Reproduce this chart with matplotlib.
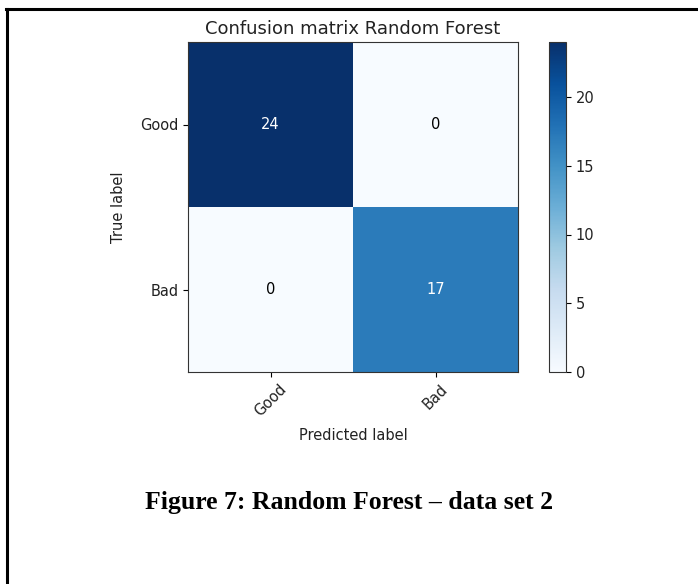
import matplotlib
matplotlib.use("Agg")
import matplotlib.pyplot as plt
from matplotlib.lines import Line2D
import numpy as np

classes = ["Good", "Bad"]
cm_values = [[24, 0],
             [0, 17]]
title = "Confusion matrix Random Forest"
caption = "Figure 7: Random Forest \u2013 data set 2"

cm = np.array(cm_values)
fig = plt.figure(figsize=(6.98, 5.84), dpi=100)
W, H = 698, 584
fs = 10.5
tc = "#222222"

ax = fig.add_axes([188 / W, 1 - 372 / H, 330 / W, 330 / H])
im = ax.imshow(cm, interpolation="nearest", cmap=plt.cm.Blues, aspect="auto")
ax.set_title(title, fontsize=13, color=tc, pad=6)
ticks = np.arange(len(classes))
ax.set_xticks(ticks)
ax.set_xticklabels(classes, rotation=45, fontsize=fs, color=tc)
ax.set_yticks(ticks)
ax.set_yticklabels(classes, fontsize=fs, color=tc)
ax.set_ylabel("True label", fontsize=fs, color=tc, labelpad=10)
ax.set_xlabel("Predicted label", fontsize=fs, color=tc, labelpad=6)
thresh = cm.max() / 2.0
for i in range(cm.shape[0]):
    for j in range(cm.shape[1]):
        ax.text(j, i, format(cm[i, j], "d"), ha="center", va="center",
                fontsize=fs, color="white" if cm[i, j] > thresh else "black")
for s in ax.spines.values():
    s.set_color("#333333")

cax = fig.add_axes([549 / W, 1 - 372 / H, 17 / W, 330 / H])
cb = fig.colorbar(im, cax=cax)
cb.ax.tick_params(labelsize=fs, labelcolor=tc)
cb.outline.set_edgecolor("#333333")

fig.text(145 / W, 1 - 509 / H, caption, ha="left", va="baseline",
         fontsize=18.5, fontweight="bold", family="Liberation Serif")

# document frame (top and left lines)
fig.add_artist(Line2D([6 / W, 1], [1 - 9 / H, 1 - 9 / H], color="black", lw=2.2,
                      transform=fig.transFigure))
fig.add_artist(Line2D([7 / W, 7 / W], [0, 1 - 9 / H], color="black", lw=2.2,
                      transform=fig.transFigure))

fig.savefig("out.png", dpi=100)
